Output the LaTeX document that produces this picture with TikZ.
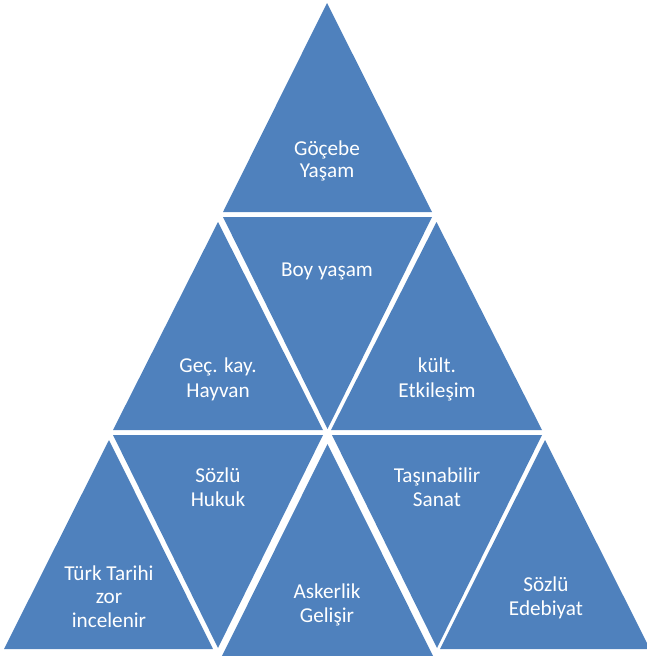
\documentclass[tikz,border=0pt]{standalone}
\usepackage{fontspec}
\setmainfont{Carlito}
\definecolor{tri}{RGB}{79,129,189}
\begin{document}
\begin{tikzpicture}[x=1pt,y=-1pt,
  tribox/.style={fill=tri,draw=none},
  lbl/.style={text=white,align=center,font=\fontsize{21.2}{23.5}\selectfont,inner sep=0pt,anchor=base}]
\useasboundingbox (0,0) rectangle (646,656);
% row 1
\fill[tribox] (327,3) -- (223,212) -- (432,212) -- cycle;
% row 2
\fill[tribox] (218,222) -- (113,430) -- (323,430) -- cycle;
\fill[tribox] (223,217) -- (432,217) -- (327.5,429) -- cycle;
\fill[tribox] (436.5,222) -- (331,430) -- (542,430) -- cycle;
% row 3
\fill[tribox] (109,440) -- (4,649) -- (213,649) -- cycle;
\fill[tribox] (113,435) -- (323,435) -- (218,648) -- cycle;
\fill[tribox] (327.5,444) -- (219,662) -- (436,662) -- cycle;
\fill[tribox] (332,435) -- (542,435) -- (437,648) -- cycle;
\fill[tribox] (545,440) -- (440,649) -- (650,649) -- cycle;
% labels (anchored at the baseline of the last line)
\node[lbl,font=\fontsize{21.2}{21.5}\selectfont] (t1) at (327,177) {Göçebe\\Yaşam};
\node[lbl] (t3) at (327,276) {Boy yaşam};
\node[lbl,font=\fontsize{21.2}{24.5}\selectfont] (t2) at (218,397) {Geç. kay.\\Hayvan};
\node[lbl,font=\fontsize{21.2}{24.5}\selectfont] (t4) at (437,397) {kült.\\Etkileşim};
\node[lbl] (t6) at (218,506) {Sözlü\\Hukuk};
\node[lbl] (t8) at (437,506) {Taşınabilir\\Sanat};
\node[lbl] (t5) at (109,627) {Türk Tarihi\\zor\\incelenir};
\node[lbl] (t7) at (327,622) {Askerlik\\Gelişir};
\node[lbl] (t9) at (546,615) {Sözlü\\Edebiyat};
\end{tikzpicture}
\end{document}
